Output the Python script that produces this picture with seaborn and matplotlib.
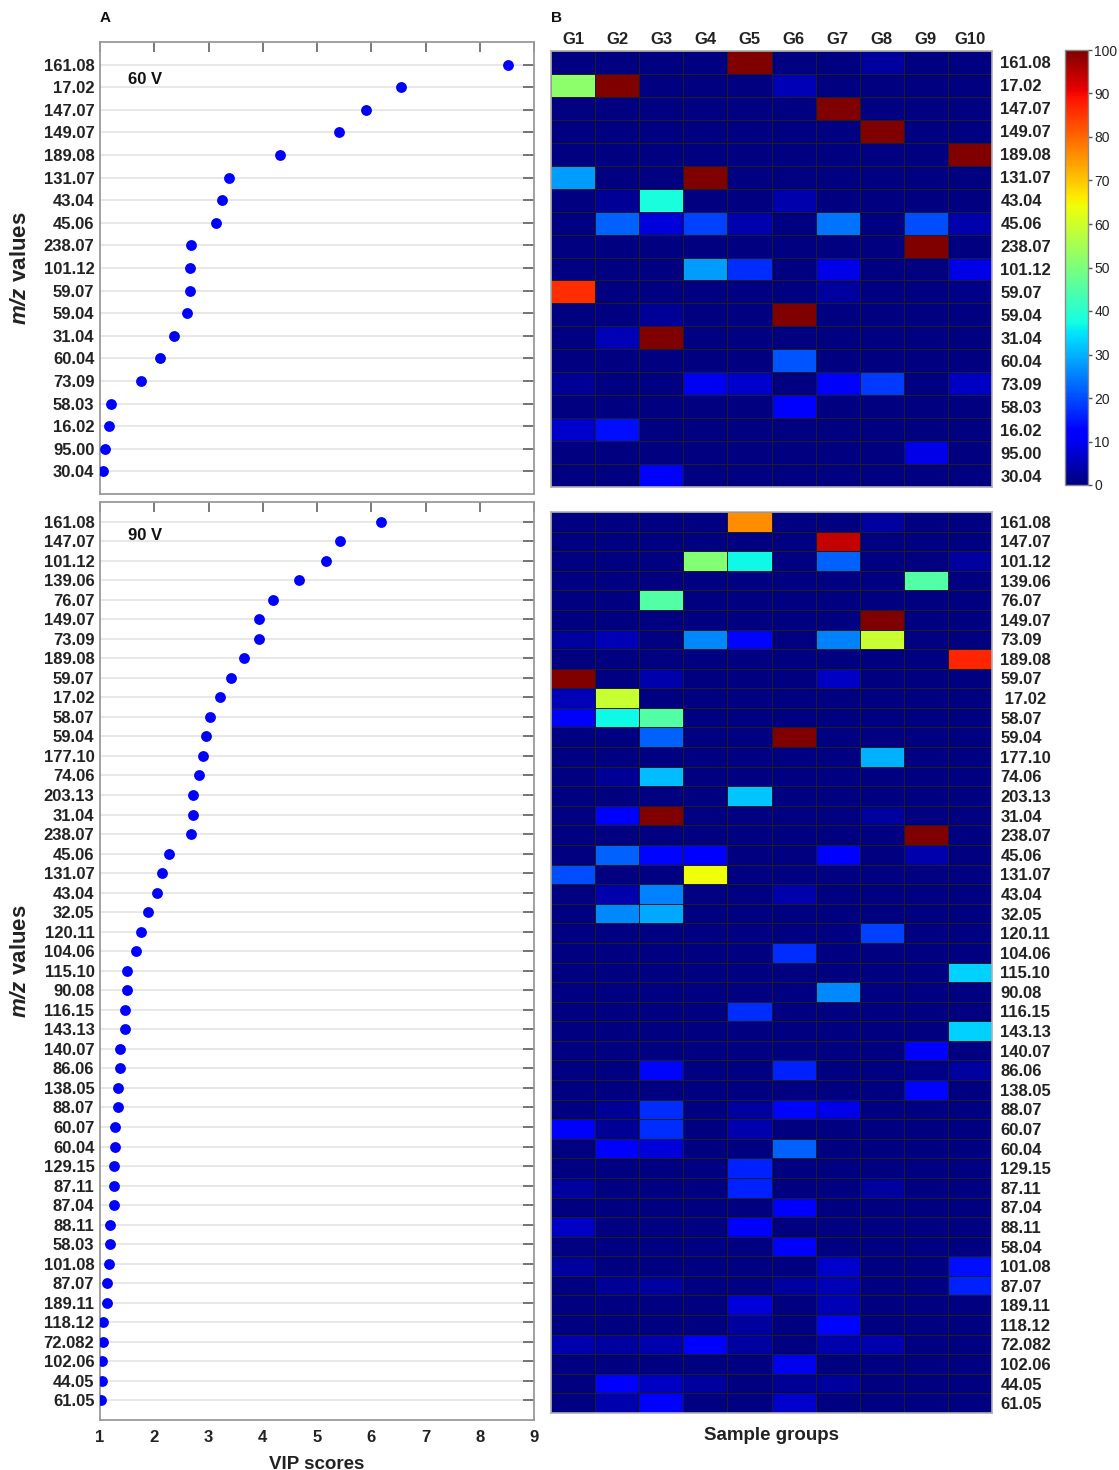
import numpy as np
import pandas as pd
import matplotlib
matplotlib.use("Agg")
import matplotlib.pyplot as plt
import seaborn as sns

sns.set_style("white")
plt.rcParams["font.family"] = ["Liberation Sans", "DejaVu Sans"]
plt.rcParams["mathtext.fontset"] = "custom"
plt.rcParams["mathtext.it"] = "Liberation Sans:italic:bold"
plt.rcParams["mathtext.rm"] = "Liberation Sans:italic:bold"
plt.rcParams["mathtext.default"] = "it"

# ---------------- data ----------------
groups = ["G1", "G2", "G3", "G4", "G5", "G6", "G7", "G8", "G9", "G10"]

mz_60 = ["161.08", "17.02", "147.07", "149.07", "189.08", "131.07", "43.04",
         "45.06", "238.07", "101.12", "59.07", "59.04", "31.04", "60.04",
         "73.09", "58.03", "16.02", "95.00", "30.04"]
vip_60 = [8.52, 6.55, 5.90, 5.41, 4.31, 3.38, 3.24, 3.14, 2.68, 2.66, 2.65,
          2.61, 2.36, 2.10, 1.76, 1.20, 1.16, 1.09, 1.05]

mz_90 = ["161.08", "147.07", "101.12", "139.06", "76.07", "149.07", "73.09",
         "189.08", "59.07", "17.02", "58.07", "59.04", "177.10", "74.06",
         "203.13", "31.04", "238.07", "45.06", "131.07", "43.04", "32.05",
         "120.11", "104.06", "115.10", "90.08", "116.15", "143.13", "140.07",
         "86.06", "138.05", "88.07", "60.07", "60.04", "129.15", "87.11",
         "87.04", "88.11", "58.03", "101.08", "87.07", "189.11", "118.12",
         "72.082", "102.06", "44.05", "61.05"]
vip_90 = [6.18, 5.43, 5.17, 4.67, 4.18, 3.94, 3.93, 3.66, 3.41, 3.21, 3.02,
          2.96, 2.89, 2.82, 2.72, 2.71, 2.68, 2.27, 2.15, 2.05, 1.88, 1.75,
          1.67, 1.50, 1.49, 1.46, 1.46, 1.37, 1.36, 1.34, 1.34, 1.28, 1.28,
          1.26, 1.26, 1.25, 1.19, 1.19, 1.17, 1.13, 1.12, 1.06, 1.06, 1.03,
          1.03, 1.01]

# relative intensity (%) per sample group, 60 V
heat_rows_60 = mz_60
heat_60 = [
    [0, 0, 0, 0, 100, 0, 0, 3, 0, 0],
    [52, 100, 0, 0, 0, 5, 0, 0, 0, 0],
    [0, 0, 0, 0, 0, 0, 100, 0, 0, 0],
    [0, 0, 0, 0, 0, 0, 0, 100, 0, 0],
    [0, 0, 0, 0, 0, 0, 0, 0, 0, 100],
    [28, 0, 0, 100, 0, 0, 0, 0, 0, 0],
    [0, 2, 38, 0, 0, 4, 0, 0, 0, 0],
    [0, 22, 8, 19, 4, 0, 24, 0, 20, 4],
    [0, 0, 0, 0, 0, 0, 0, 0, 100, 0],
    [0, 0, 0, 28, 17, 0, 9, 0, 0, 9],
    [86, 0, 0, 0, 0, 0, 3, 0, 0, 1],
    [0, 0, 2, 0, 0, 100, 0, 0, 0, 0],
    [0, 5, 100, 0, 0, 0, 0, 0, 0, 0],
    [0, 0, 0, 0, 0, 21, 0, 0, 0, 0],
    [2, 0, 0, 10, 7, 0, 11, 18, 0, 6],
    [0, 0, 0, 0, 0, 12, 0, 0, 0, 0],
    [7, 14, 0, 0, 0, 0, 0, 0, 0, 0],
    [0, 0, 0, 0, 0, 0, 0, 0, 9, 0],
    [0, 0, 11, 0, 0, 0, 0, 0, 0, 0],
]

# relative intensity (%) per sample group, 90 V
heat_rows_90 = ["161.08", "147.07", "101.12", "139.06", "76.07", "149.07",
                "73.09", "189.08", "59.07", " 17.02", "58.07", "59.04",
                "177.10", "74.06", "203.13", "31.04", "238.07", "45.06",
                "131.07", "43.04", "32.05", "120.11", "104.06", "115.10",
                "90.08", "116.15", "143.13", "140.07", "86.06", "138.05",
                "88.07", "60.07", "60.04", "129.15", "87.11", "87.04",
                "88.11", "58.04", "101.08", "87.07", "189.11", "118.12",
                "72.082", "102.06", "44.05", "61.05"]
heat_90 = [
    [0, 0, 0, 0, 76, 0, 0, 3, 0, 0],
    [0, 0, 0, 0, 0, 0, 94, 0, 0, 0],
    [0, 0, 0, 51, 37, 0, 22, 0, 0, 3],
    [0, 0, 0, 0, 0, 0, 0, 0, 45, 0],
    [0, 0, 45, 0, 0, 0, 0, 0, 0, 0],
    [0, 0, 0, 0, 0, 0, 0, 100, 0, 0],
    [3, 5, 0, 26, 13, 0, 25, 59, 0, 0],
    [0, 0, 0, 0, 0, 0, 0, 0, 0, 87],
    [100, 0, 4, 0, 0, 0, 6, 0, 0, 0],
    [5, 59, 0, 0, 0, 0, 0, 0, 0, 0],
    [12, 37, 45, 0, 0, 0, 0, 0, 0, 0],
    [0, 0, 22, 0, 0, 100, 0, 0, 0, 0],
    [0, 0, 0, 0, 0, 0, 0, 30, 0, 0],
    [0, 2, 31, 0, 0, 0, 0, 0, 0, 0],
    [0, 0, 0, 0, 32, 0, 0, 0, 0, 0],
    [0, 11, 100, 0, 0, 0, 0, 3, 0, 0],
    [0, 0, 0, 0, 0, 0, 0, 0, 100, 0],
    [0, 22, 13, 12, 0, 0, 12, 0, 4, 0],
    [20, 0, 0, 64, 0, 0, 0, 0, 0, 0],
    [0, 4, 25, 0, 0, 4, 0, 0, 0, 0],
    [0, 26, 29, 0, 0, 0, 0, 0, 0, 0],
    [0, 0, 0, 0, 0, 0, 0, 19, 0, 0],
    [0, 0, 0, 0, 0, 17, 0, 0, 0, 0],
    [0, 0, 0, 0, 0, 0, 0, 0, 0, 33],
    [0, 0, 0, 0, 0, 0, 26, 0, 0, 0],
    [0, 0, 0, 0, 17, 0, 0, 0, 0, 0],
    [0, 0, 0, 0, 0, 0, 0, 0, 0, 33],
    [0, 0, 0, 0, 0, 0, 0, 0, 12, 0],
    [0, 0, 13, 0, 0, 16, 0, 0, 1, 3],
    [0, 0, 0, 0, 0, 0, 0, 0, 13, 0],
    [0, 2, 17, 0, 3, 13, 9, 0, 0, 0],
    [12, 2, 17, 0, 4, 0, 0, 0, 0, 0],
    [0, 11, 8, 0, 0, 22, 0, 0, 0, 0],
    [0, 0, 0, 0, 16, 0, 0, 0, 0, 0],
    [3, 0, 0, 0, 16, 0, 0, 3, 0, 0],
    [0, 0, 0, 0, 0, 11, 0, 0, 0, 0],
    [6, 0, 0, 0, 11, 0, 0, 0, 0, 0],
    [0, 0, 0, 0, 0, 11, 0, 0, 0, 0],
    [3, 0, 0, 0, 0, 0, 7, 0, 0, 14],
    [0, 2, 3, 0, 0, 3, 5, 0, 0, 16],
    [0, 0, 0, 0, 8, 0, 5, 0, 0, 0],
    [0, 0, 0, 0, 3, 0, 13, 0, 0, 0],
    [4, 3, 4, 11, 3, 0, 4, 4, 0, 0],
    [0, 0, 0, 0, 0, 10, 0, 0, 0, 0],
    [0, 11, 6, 3, 0, 2, 3, 0, 0, 0],
    [0, 4, 11, 0, 0, 7, 0, 0, 0, 0],
]

# ---------------- figure ----------------
W, H = 1119, 1470
fig = plt.figure(figsize=(W / 100, H / 100), dpi=100)


def box(x0, y0, x1, y1):
    return [x0 / W, 1 - y1 / H, (x1 - x0) / W, (y1 - y0) / H]


ax_top = fig.add_axes(box(100, 42, 534, 494))
ax_bot = fig.add_axes(box(100, 502, 534, 1420))
hm_top = fig.add_axes(box(551, 51, 992, 487))
hm_bot = fig.add_axes(box(551, 512, 992, 1413))
cax = fig.add_axes(box(1065, 50, 1088, 485))

TXT = "#222222"
SPINE = "#9a9a9a"


def dot_panel(ax, labels, scores, tag, tag_y, show_x):
    df = pd.DataFrame({"mz": labels, "vip": scores})
    ax.grid(False)
    for i in range(len(labels)):
        ax.axhline(i, color="#e6e6e6", lw=1.3, zorder=0)
    sns.stripplot(data=df, x="vip", y="mz", order=labels, jitter=False,
                  color="#0000ff", size=7.8, linewidth=0, ax=ax, zorder=3)
    ax.set_xlim(1, 9)
    ax.set_ylim(len(labels), -1)
    ax.set_xticks(range(1, 10))
    ax.tick_params(axis="both", direction="in", length=8, width=1.1,
                   color="#555555", top=True, right=True, labelsize=12,
                   labelcolor=TXT, pad=4)
    ax.tick_params(axis="x", length=7, pad=7)
    for t in ax.get_yticklabels() + ax.get_xticklabels():
        t.set_fontweight("bold")
    if not show_x:
        ax.tick_params(labelbottom=False)
        ax.set_xlabel("")
    else:
        ax.set_xlabel("VIP scores", fontsize=13.5, fontweight="bold",
                      color=TXT, labelpad=8)
    ax.set_ylabel(r"$m/z$ values", fontsize=16, fontweight="bold", color=TXT)
    ax.yaxis.set_label_coords(-0.16, 0.5)
    for s in ax.spines.values():
        s.set_color(SPINE)
        s.set_linewidth(1.3)
        s.set_visible(True)
    ax.text(0.065, tag_y, tag, transform=ax.transAxes, fontsize=12,
            fontweight="bold", color="#111111", va="center", ha="left")


dot_panel(ax_top, mz_60, vip_60, "60 V", 0.918, False)
dot_panel(ax_bot, mz_90, vip_90, "90 V", 0.963, True)


def heat_panel(ax, rows, values, top_labels, with_cbar):
    df = pd.DataFrame(values, index=rows, columns=groups)
    kws = dict(cmap="jet", vmin=0, vmax=100, linewidths=0.7,
               linecolor="#1e1e1e", ax=ax)
    if with_cbar:
        sns.heatmap(df, cbar=True, cbar_ax=cax,
                    cbar_kws={"ticks": list(range(0, 101, 10))}, **kws)
    else:
        sns.heatmap(df, cbar=False, **kws)
    ax.yaxis.tick_right()
    ax.set_yticklabels(rows, rotation=0, fontsize=12, fontweight="bold",
                       color=TXT)
    ax.tick_params(axis="y", length=0, pad=6)
    if top_labels:
        ax.xaxis.tick_top()
        ax.set_xticklabels(groups, rotation=0, fontsize=12,
                           fontweight="bold", color=TXT)
        ax.tick_params(axis="x", length=0, pad=3)
        ax.set_xlabel("")
    else:
        ax.set_xticks([])
        ax.set_xlabel("Sample groups", fontsize=13.5, fontweight="bold",
                      color=TXT, labelpad=10)
    ax.set_ylabel("")
    for s in ax.spines.values():
        s.set_visible(True)
        s.set_color("#b0b0b0")
        s.set_linewidth(1.2)


heat_panel(hm_top, heat_rows_60, heat_60, True, True)
heat_panel(hm_bot, heat_rows_90, heat_90, False, False)

cax.tick_params(labelsize=10, length=3, width=1, color="#555555",
                labelcolor=TXT, pad=1.5)
cb = hm_top.collections[0].colorbar
cb.outline.set_edgecolor("#8a8a8a")
cb.outline.set_linewidth(1.0)

fig.text(100 / W, 1 - 18 / H, "A", fontsize=11, fontweight="bold",
         color="#111111", ha="left", va="center")
fig.text(551 / W, 1 - 18 / H, "B", fontsize=11, fontweight="bold",
         color="#111111", ha="left", va="center")

fig.savefig("out.png", dpi=100)
